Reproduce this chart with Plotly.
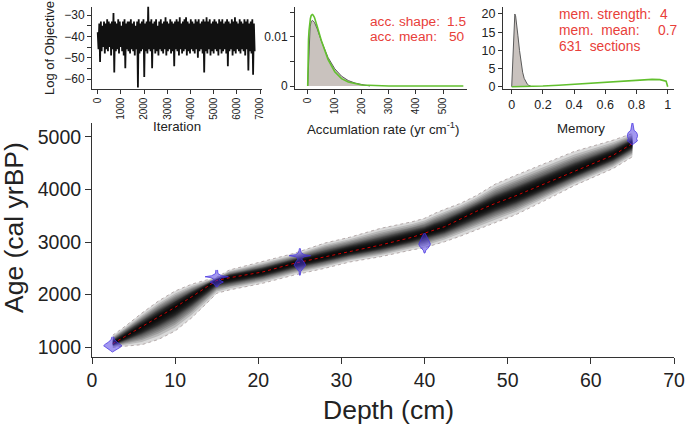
import plotly.graph_objects as go

# ---------------- data ----------------
# MCMC trace (log of objective): upper / lower envelope per iteration block
trace_step = 68
trace_hi = [-38, -34, -33, -35, -33, -34, -32, -33, -34, -33,
            -29, -33, -34, -32, -33, -35, -33, -32, -34, -33,
            -33, -32, -34, -33, -35, -33, -32, -34, -33, -32,
            -34, -33, -26, -33, -32, -34, -33, -32, -35, -33,
            -32, -34, -33, -31, -33, -34, -32, -33, -34, -33,
            -32, -33, -31, -34, -33, -32, -31, -33, -34, -32,
            -33, -34, -32, -33, -32, -34, -33, -32, -33, -31,
            -33, -32, -34, -33, -32, -33, -34, -32, -33, -32,
            -34, -33, -32, -33, -34, -32, -33, -31, -33, -34,
            -32, -33, -34, -32, -33, -32, -34, -33, -32, -34]
trace_lo = [-46, -52, -47, -45, -48, -46, -47, -45, -49, -46,
            -57, -47, -46, -48, -45, -47, -49, -55, -46, -47,
            -48, -46, -47, -49, -46, -64, -48, -47, -46, -59,
            -47, -48, -46, -47, -55, -46, -48, -47, -49, -46,
            -47, -48, -46, -49, -47, -46, -48, -47, -54, -46,
            -47, -49, -46, -48, -47, -46, -49, -47, -48, -46,
            -47, -48, -46, -50, -47, -46, -48, -57, -47, -48,
            -46, -49, -47, -48, -46, -47, -49, -46, -48, -47,
            -46, -48, -54, -47, -46, -49, -47, -48, -46, -47,
            -48, -46, -47, -49, -46, -56, -47, -48, -58, -47]
trace_iter = [i * trace_step for i in range(len(trace_hi))]

# Accumulation rate: prior (green) and posterior (grey)
acc_prior_x = [0, 1, 2, 3, 5, 7, 10, 13, 17, 20, 25, 35, 50, 75, 100, 125, 150, 200, 250, 300, 400, 500, 575]
acc_prior_y = [0, 0.0056, 0.0078, 0.0095, 0.0113, 0.0125, 0.0137, 0.0143, 0.0145, 0.0144, 0.0139, 0.0121,
               0.0093, 0.0054, 0.0029, 0.0015, 0.0008, 0.0002, 0.00005, 0.00001, 0, 0, 0]
acc_post_x = [0, 2, 4, 6, 9, 13, 18, 25, 35, 50, 75, 100, 125, 150, 175, 200, 230]
acc_post_y = [0, 0.003, 0.007, 0.0098, 0.0120, 0.0131, 0.0133, 0.0129, 0.0116, 0.0092, 0.0058,
              0.0035, 0.0020, 0.0011, 0.0006, 0.0003, 0]

# Memory: prior (green) and posterior (grey)
mem_prior_x = [0, 0.1, 0.2, 0.3, 0.4, 0.5, 0.6, 0.7, 0.8, 0.9, 0.95, 0.98, 0.99, 1.0]
mem_prior_y = [0, 0.06, 0.21, 0.42, 0.68, 0.97, 1.29, 1.61, 1.89, 2.03, 1.95, 1.72, 1.52, 0]
mem_post_x = [0, 0.005, 0.01, 0.015, 0.02, 0.025, 0.03, 0.04, 0.05, 0.06, 0.07, 0.08, 0.09, 0.10, 0.11, 0.12, 0.13]
mem_post_y = [0, 6, 13, 18, 20, 19.5, 18, 14, 10, 6.5, 4, 2.3, 1.3, 0.7, 0.35, 0.15, 0]

# Age-depth model
band_depth = [2.5, 4, 6, 8, 10, 12, 14, 15, 16.5, 18.5, 20.5, 24.3, 28, 31, 34.7, 38.5, 40, 41.2,
              42.4, 44.3, 46.2, 48.5, 51, 55, 58, 62.7, 65]
band_mean = [1070, 1205, 1390, 1575, 1760, 1960, 2170, 2270, 2320, 2372, 2430, 2594, 2720, 2830, 2942,
             3090, 3160, 3230, 3290, 3440, 3580, 3733, 3880, 4143, 4340, 4650, 4870]
band_upper = [1230, 1400, 1650, 1880, 2070, 2200, 2290, 2330, 2467, 2545, 2625, 2784, 2980, 3090, 3259,
              3384, 3450, 3543, 3620, 3733, 3880, 4100, 4270, 4523, 4720, 4935, 5062]
band_lower = [1000, 1020, 1050, 1150, 1310, 1560, 1860, 2025, 2088, 2150, 2215, 2372, 2500, 2620, 2720,
              2850, 2890, 2950, 3004, 3110, 3226, 3370, 3520, 3828, 4070, 4397, 4618]

# Calibrated dates (age and half width of the probability shape, cm)
date_depths = [2.5, 15, 25, 40, 65]
date1_age = [1200, 1150, 1100, 1060, 1030, 1000, 970, 940, 910]
date1_hw = [0.1, 0.2, 0.5, 0.9, 1.1, 0.9, 0.6, 0.3, 0.05]
date2_age = [2470, 2400, 2360, 2340, 2320, 2280, 2240, 2200, 2150]
date2_hw = [0.1, 0.15, 0.6, 1.4, 0.6, 0.3, 0.8, 0.3, 0.1]
date3_age = [2880, 2800, 2760, 2740, 2720, 2680, 2620, 2560, 2500, 2440, 2370]
date3_hw = [0.05, 0.15, 0.5, 1.3, 0.5, 0.2, 0.5, 0.7, 0.4, 0.1, 0.05]
date4_age = [3170, 3100, 3050, 3000, 2960, 2920, 2880, 2840, 2790]
date4_hw = [0.05, 0.3, 0.5, 0.6, 0.7, 0.6, 0.4, 0.15, 0.05]
date5_age = [5260, 5200, 5120, 5080, 5040, 5000, 4960, 4920, 4880, 4840]
date5_hw = [0.05, 0.1, 0.2, 0.5, 0.6, 0.6, 0.5, 0.6, 0.3, 0.05]

acc_shape, acc_mean = "1.5", "50"
mem_strength, mem_mean, n_sections = "4", "0.7", "631"

# ---------------- style ----------------
W, H = 685, 426
FONT = "Arial, Liberation Sans, sans-serif"
RED = "#e8403a"
GREEN = "#62c02e"
GREY_FILL = "#c9c2be"
GREY_LINE = "#5a5a5a"
AX = "#333333"
SHADE_FRACS = [1.0, 0.85, 0.74, 0.65, 0.57, 0.50, 0.45, 0.41, 0.38, 0.35,
               0.32, 0.29, 0.26, 0.23, 0.20, 0.16, 0.12, 0.08, 0.05, 0.02]


def px(x):
    return x / W


def py(y):
    return 1 - y / H


fig = go.Figure()

# panel 1: trace
zx, zy = [], []
for it, h, l in zip(trace_iter, trace_hi, trace_lo):
    zx += [it, it + trace_step / 2]
    zy += [h, l]
fig.add_trace(go.Scatter(x=zx, y=zy, mode="lines", line=dict(color="#111", width=1.8),
                         xaxis="x2", yaxis="y2", hoverinfo="skip"))

# panel 2: accumulation rate
fig.add_trace(go.Scatter(x=acc_post_x, y=acc_post_y, mode="lines", fill="tozeroy",
                         fillcolor=GREY_FILL, line=dict(color=GREY_LINE, width=1),
                         xaxis="x3", yaxis="y3", hoverinfo="skip"))
fig.add_trace(go.Scatter(x=acc_prior_x, y=acc_prior_y, mode="lines",
                         line=dict(color=GREEN, width=1.6), xaxis="x3", yaxis="y3", hoverinfo="skip"))

# panel 3: memory
fig.add_trace(go.Scatter(x=mem_post_x, y=mem_post_y, mode="lines", fill="tozeroy",
                         fillcolor=GREY_FILL, line=dict(color=GREY_LINE, width=1),
                         xaxis="x4", yaxis="y4", hoverinfo="skip"))
fig.add_trace(go.Scatter(x=mem_prior_x, y=mem_prior_y, mode="lines",
                         line=dict(color=GREEN, width=1.6), xaxis="x4", yaxis="y4", hoverinfo="skip"))

# main panel: grey-scale band
for f in SHADE_FRACS:
    up = [m + f * (u - m) for m, u in zip(band_mean, band_upper)]
    lo = [m - f * (m - l) for m, l in zip(band_mean, band_lower)]
    fig.add_trace(go.Scatter(x=band_depth + band_depth[::-1], y=up + lo[::-1], mode="lines",
                             fill="toself", fillcolor="rgba(0,0,0,0.15)", line=dict(width=0),
                             xaxis="x", yaxis="y", hoverinfo="skip"))
for b in (band_upper, band_lower):
    fig.add_trace(go.Scatter(x=band_depth, y=b, mode="lines",
                             line=dict(color="#a89c9c", width=0.8, dash="dot"),
                             xaxis="x", yaxis="y", hoverinfo="skip"))
fig.add_trace(go.Scatter(x=band_depth, y=band_mean, mode="lines",
                         line=dict(color="red", width=0.8, dash="dot"),
                         xaxis="x", yaxis="y", hoverinfo="skip"))

# dates
for d, ages, hws in zip(date_depths,
                        [date1_age, date2_age, date3_age, date4_age, date5_age],
                        [date1_hw, date2_hw, date3_hw, date4_hw, date5_hw]):
    xs = [d + w for w in hws] + [d - w for w in hws[::-1]]
    ys = ages + ages[::-1]
    fig.add_trace(go.Scatter(x=xs, y=ys, mode="lines", fill="toself",
                             fillcolor="rgba(70,50,225,0.5)",
                             line=dict(color="rgba(70,50,225,0.75)", width=1),
                             xaxis="x", yaxis="y", hoverinfo="skip"))

common = dict(showgrid=False, zeroline=False, showline=True, linecolor=AX, linewidth=1,
              ticks="outside", tickcolor=AX, tickwidth=1, ticklen=4, automargin=False,
              ticklabeloverflow="allow",
              tickfont=dict(family=FONT, size=12, color="#222"))

layout = dict(
    width=W, height=H, autosize=False, showlegend=False,
    margin=dict(l=0, r=0, t=0, b=0, pad=0, autoexpand=False),
    paper_bgcolor="white", plot_bgcolor="rgba(0,0,0,0)",
    xaxis=dict(common, domain=[px(92), px(674)], range=[0, 70], anchor="y",
               tickvals=[0, 10, 20, 30, 40, 50, 60, 70], ticklen=6,
               tickfont=dict(family=FONT, size=19.5, color="#222")),
    yaxis=dict(common, domain=[py(357), py(123)], range=[816, 5260], anchor="x",
               tickvals=[1000, 2000, 3000, 4000, 5000], ticklen=6,
               tickfont=dict(family=FONT, size=19.5, color="#222")),
    xaxis2=dict(common, domain=[px(92), px(262.4)], range=[-246, 7099], anchor="y2",
                tickvals=[0, 1000, 2000, 3000, 4000, 5000, 6000, 7000], tickangle=-90,
                tickfont=dict(family=FONT, size=10, color="#222")),
    yaxis2=dict(common, domain=[py(88.6), py(6.5)], range=[-64.5, -26], anchor="x2",
                tickvals=[-60, -50, -40, -30],
                minor=dict(tickvals=[-55, -45, -35], ticks="outside", ticklen=4, tickcolor=AX)),
    xaxis3=dict(common, domain=[px(295), px(467.4)], range=[-46.9, 590], anchor="y3",
                tickvals=[0, 100, 200, 300, 400, 500], tickangle=-90,
                tickfont=dict(family=FONT, size=10, color="#222")),
    yaxis3=dict(common, domain=[py(88.6), py(6.5)], range=[-0.000527, 0.016126], anchor="x3",
                tickvals=[0, 0.01], ticktext=["0", "0.01"],
                minor=dict(tickvals=[0.005, 0.015], ticks="outside", ticklen=4, tickcolor=AX)),
    xaxis4=dict(common, domain=[px(503), px(674)], range=[-0.0558, 1.0404], anchor="y4",
                tickvals=[0, 0.2, 0.4, 0.6, 0.8, 1.0],
                ticktext=["0", "0.2", "0.4", "0.6", "0.8", "1"],
                tickfont=dict(family=FONT, size=12.5, color="#222")),
    yaxis4=dict(common, domain=[py(88.6), py(6.5)], range=[-0.52, 22.06], anchor="x4",
                tickvals=[0, 5, 10, 15, 20],
                tickfont=dict(family=FONT, size=12.5, color="#222")),
)
fig.update_layout(**layout)


def ann(text, x, y, size, color="#222", xanchor="center", angle=0):
    fig.add_annotation(text=text, x=px(x), y=py(y), xref="paper", yref="paper",
                       xanchor=xanchor, yanchor="middle", showarrow=False, textangle=angle,
                       font=dict(family=FONT, size=size, color=color))


ann("Log of Objective", 50, 48, 13, angle=-90)
ann("Iteration", 177, 126, 13.3)
ann("Accumlation rate (yr cm<sup>-1</sup>)", 383, 128, 13.3)
ann("Memory", 581, 128, 13.3)
ann("acc. shape:", 368, 21.5, 13.7, RED, "left")
ann(acc_shape, 468, 21.5, 13.7, RED, "right")
ann("acc. mean:", 368, 36.5, 13.7, RED, "left")
ann(acc_mean, 467, 36.5, 13.7, RED, "right")
ann("mem. strength:", 557, 15, 13.8, RED, "left")
ann(mem_strength, 670, 15, 13.8, RED, "right")
ann("mem.  mean:", 557, 30.7, 13.8, RED, "left")
ann(mem_mean, 679, 30.7, 13.8, RED, "right")
ann(n_sections + "  sections", 557, 46.5, 13.8, RED, "left")
ann("Age (cal yrBP)", 14, 228, 26.5, angle=-90)
ann("Depth (cm)", 388, 410, 26.5)

fig.write_html("out.html", config={"displayModeBar": False},
               post_script="document.body.style.margin='0';document.body.style.overflow='hidden';")
